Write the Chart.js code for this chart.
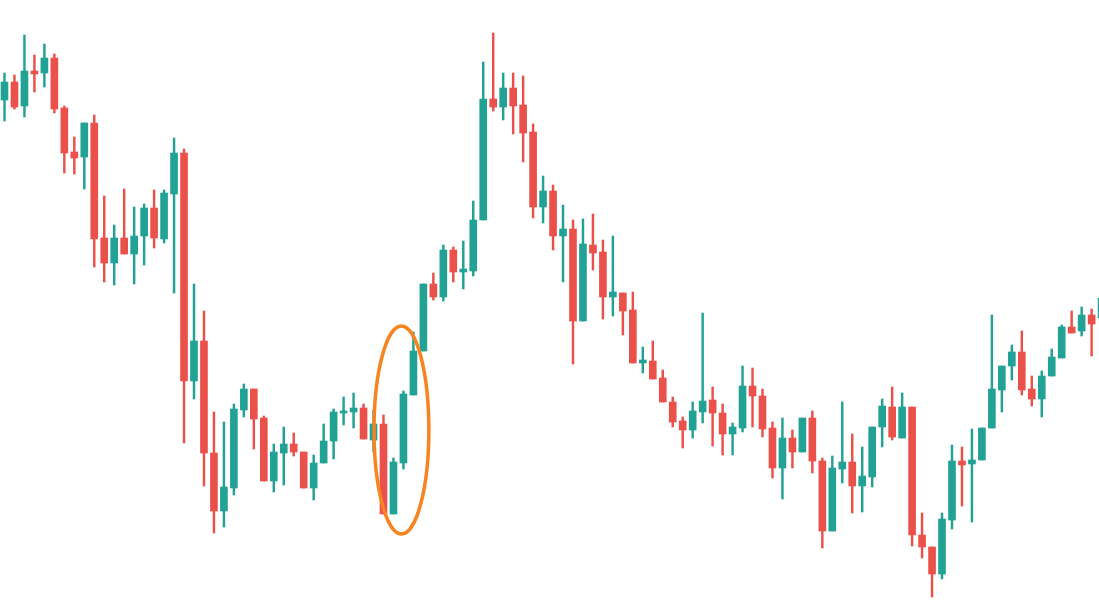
<!DOCTYPE html>
<html>
<head>
<meta charset="utf-8">
<script src="https://cdn.jsdelivr.net/npm/chart.js@4.4.1/dist/chart.umd.min.js"></script>
<style>
  html, body { margin: 0; padding: 0; background: #ffffff; }
  #wrap { width: 1099px; height: 614px; position: relative; }
</style>
</head>
<body>
<div id="wrap"><canvas id="chart"></canvas></div>
<script>
// Candle prices (one entry per session, left to right)
let openPrices = [
  520, 538, 514, 549, 547, 562, 512, 468, 463, 497,
  382, 357, 382, 366, 384, 412, 381, 426, 467, 239,
  279, 167, 109, 132, 210, 231, 202, 139, 167, 176,
  168, 132, 157, 179, 207, 208, 212, 180, 196, 106,
  157, 225, 269, 336, 323, 370, 348, 349, 400, 521,
  513, 532, 515, 488, 413, 429, 384, 391, 299, 375,
  368, 323, 327, 310, 257, 259, 242, 218, 199, 190,
  208, 220, 207, 186, 192, 234, 224, 192, 152, 182,
  168, 202, 159, 89, 151, 158, 134, 143, 193, 213,
  182, 213, 85, 73, 46, 100, 159, 156, 160, 192,
  230, 254, 268, 231, 221, 244, 262, 293, 289, 305,
  302
];
let highPrices = [
  547, 545, 585, 565, 576, 566, 514, 483, 497, 505,
  424, 395, 431, 413, 416, 430, 430, 482, 471, 336,
  309, 208, 198, 216, 236, 231, 204, 176, 193, 187,
  168, 165, 196, 211, 223, 227, 216, 210, 205, 162,
  229, 288, 336, 347, 375, 373, 379, 419, 558, 587,
  547, 547, 544, 496, 444, 435, 415, 400, 401, 406,
  380, 384, 327, 328, 273, 279, 250, 223, 203, 218,
  307, 233, 216, 197, 254, 252, 231, 198, 202, 190,
  202, 209, 162, 164, 218, 186, 173, 193, 221, 233,
  227, 213, 107, 73, 107, 175, 173, 191, 192, 305,
  254, 275, 289, 244, 249, 271, 295, 309, 313, 311,
  332
];
let lowPrices = [
  499, 511, 503, 528, 533, 507, 447, 446, 431, 353,
  338, 335, 366, 336, 355, 372, 377, 327, 177, 221,
  134, 87, 93, 125, 203, 171, 139, 128, 135, 164,
  132, 120, 157, 161, 195, 192, 181, 168, 106, 106,
  151, 225, 269, 320, 319, 338, 331, 344, 400, 509,
  500, 486, 458, 402, 397, 370, 338, 256, 299, 350,
  301, 304, 285, 257, 247, 241, 218, 193, 172, 182,
  197, 174, 165, 165, 188, 193, 183, 142, 121, 152,
  168, 147, 72, 89, 137, 107, 108, 133, 173, 180,
  182, 74, 62, 23, 41, 91, 114, 98, 160, 192,
  208, 240, 225, 214, 203, 244, 262, 287, 284, 264,
  298
];
let closePrices = [
  538, 513, 549, 546, 562, 511, 467, 462, 497, 381,
  357, 382, 366, 384, 412, 382, 427, 467, 239, 279,
  167, 109, 133, 211, 231, 201, 139, 168, 176, 168,
  132, 157, 179, 208, 209, 212, 181, 196, 106, 158,
  226, 269, 336, 323, 370, 348, 351, 400, 521, 513,
  532, 514, 487, 413, 429, 384, 391, 299, 376, 367,
  323, 328, 309, 257, 260, 241, 218, 198, 190, 209,
  219, 207, 186, 193, 234, 224, 191, 152, 182, 168,
  202, 159, 89, 152, 158, 134, 144, 193, 214, 183,
  213, 85, 73, 46, 101, 159, 155, 160, 192, 231,
  254, 268, 230, 221, 244, 263, 293, 287, 305, 296,
  322
];

// Highlight ellipse around the reversal candles
let highlight = { index: 39.8, price: 190, halfIndex: 2.75, halfPrice: 104 };

let upColor = "#22A294";
let downColor = "#EB514B";

// Build candle data
let candleColors = openPrices.map(function (o, i) {
  return closePrices[i] >= o ? upColor : downColor;
});
let bodyData = openPrices.map(function (o, i) {
  return { x: i, y: [o, closePrices[i]] };
});
let wickData = lowPrices.map(function (l, i) {
  return { x: i, y: [l, highPrices[i]] };
});

// Draws the orange ellipse over the chart
let ellipsePlugin = {
  id: "ellipse",
  afterDatasetsDraw: function (chart) {
    let ctx = chart.ctx;
    let xs = chart.scales.x;
    let ys = chart.scales.y;
    let cx = xs.getPixelForValue(highlight.index);
    let cy = ys.getPixelForValue(highlight.price);
    let rx = Math.abs(xs.getPixelForValue(highlight.index + highlight.halfIndex) - cx);
    let ry = Math.abs(ys.getPixelForValue(highlight.price + highlight.halfPrice) - cy);
    ctx.save();
    ctx.beginPath();
    ctx.ellipse(cx, cy, rx, ry, 0, 0, Math.PI * 2);
    ctx.strokeStyle = "#F7841F";
    ctx.lineWidth = 3.5;
    ctx.stroke();
    ctx.restore();
  },
};

let ctx = document.getElementById("chart").getContext("2d");
new Chart(ctx, {
  type: "bar",
  data: {
    datasets: [
      {
        label: "Body",
        data: bodyData,
        backgroundColor: candleColors,
        borderWidth: 0,
        barThickness: 7,
        minBarLength: 2,
        grouped: false,
        order: 0,
      },
      {
        label: "Wick",
        data: wickData,
        backgroundColor: candleColors,
        borderWidth: 0,
        barThickness: 1.8,
        grouped: false,
        order: 1,
      },
    ],
  },
  options: {
    responsive: true,
    maintainAspectRatio: false,
    animation: false,
    layout: { padding: 0 },
    plugins: {
      legend: { display: false },
      tooltip: { enabled: false },
    },
    scales: {
      x: {
        type: "linear",
        display: false,
        min: -0.451,
        max: 109.74,
        offset: false,
      },
      y: {
        display: false,
        min: 6,
        max: 620,
      },
    },
  },
  plugins: [ellipsePlugin],
});
</script>
</body>
</html>
